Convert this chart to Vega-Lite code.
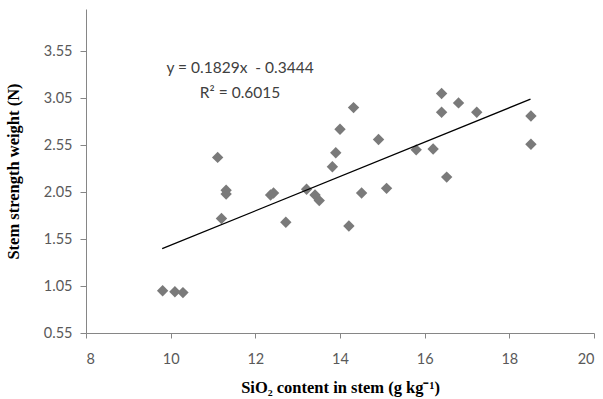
{
  "$schema": "https://vega.github.io/schema/vega-lite/v6.json",
  "autosize": "none",
  "width": 508,
  "height": 324,
  "padding": {"left": 86, "top": 9, "right": 9, "bottom": 66},
  "background": "white",
  "config": {
    "view": {"stroke": null},
    "axis": {
      "grid": false,
      "domainColor": "#868686",
      "tickColor": "#868686",
      "labelColor": "#595959",
      "labelFont": "Lato",
      "labelFontSize": 14.5,
      "titleFont": "Liberation Serif",
      "titleFontWeight": "bold",
      "titleFontSize": 16.5,
      "titleColor": "#000000"
    }
  },
  "datasets": {
    "points": [
      {"silica": 9.81, "strength": 1.00},
      {"silica": 10.1, "strength": 0.99},
      {"silica": 10.29, "strength": 0.98},
      {"silica": 11.11, "strength": 2.42},
      {"silica": 11.31, "strength": 2.07},
      {"silica": 11.31, "strength": 2.03},
      {"silica": 11.2, "strength": 1.77},
      {"silica": 12.36, "strength": 2.02},
      {"silica": 12.43, "strength": 2.04},
      {"silica": 12.72, "strength": 1.73},
      {"silica": 13.21, "strength": 2.08},
      {"silica": 13.41, "strength": 2.02},
      {"silica": 13.51, "strength": 1.96},
      {"silica": 13.82, "strength": 2.32},
      {"silica": 13.9, "strength": 2.47},
      {"silica": 14.0, "strength": 2.72},
      {"silica": 14.32, "strength": 2.95},
      {"silica": 14.21, "strength": 1.69},
      {"silica": 14.51, "strength": 2.04},
      {"silica": 14.91, "strength": 2.61},
      {"silica": 15.1, "strength": 2.09},
      {"silica": 15.8, "strength": 2.50},
      {"silica": 16.2, "strength": 2.51},
      {"silica": 16.52, "strength": 2.21},
      {"silica": 16.4, "strength": 3.10},
      {"silica": 16.4, "strength": 2.90},
      {"silica": 16.8, "strength": 3.00},
      {"silica": 17.23, "strength": 2.90},
      {"silica": 18.51, "strength": 2.86},
      {"silica": 18.51, "strength": 2.56}
    ],
    "trend": [
      {"silica": 9.8, "strength": 1.448},
      {"silica": 18.5, "strength": 3.040}
    ],
    "labels": [
      {"silica": 11.64, "strength": 3.375, "text": "y = 0.1829x\u00a0 - 0.3444"},
      {"silica": 11.64, "strength": 3.11, "text": "R² = 0.6015"}
    ]
  },
  "layer": [
    {
      "data": {"name": "points"},
      "mark": {"type": "point", "shape": "diamond", "filled": true, "size": 130, "color": "#7a7a7a", "opacity": 1},
      "encoding": {
        "x": {
          "field": "silica", "type": "quantitative",
          "scale": {"domain": [8, 20], "nice": false, "zero": false},
          "axis": {"values": [8, 10, 12, 14, 16, 18, 20], "tickSize": 5, "labelPadding": 14, "title": "SiO₂ content in stem (g kg⁻¹)", "titlePadding": 14}
        },
        "y": {
          "field": "strength", "type": "quantitative",
          "scale": {"domain": [0.55, 4.0], "nice": false, "zero": false},
          "axis": {"values": [0.55, 1.05, 1.55, 2.05, 2.55, 3.05, 3.55], "format": ".2f", "tickSize": 6, "labelPadding": 8, "title": "Stem  strength weight (N)", "titlePadding": 22}
        }
      }
    },
    {
      "data": {"name": "trend"},
      "mark": {"type": "line", "color": "#000000", "strokeWidth": 1.3},
      "encoding": {
        "x": {"field": "silica", "type": "quantitative"},
        "y": {"field": "strength", "type": "quantitative"}
      }
    },
    {
      "data": {"name": "labels"},
      "mark": {"type": "text", "font": "Lato", "fontSize": 15.5, "color": "#404040", "align": "center", "baseline": "middle"},
      "encoding": {
        "x": {"field": "silica", "type": "quantitative"},
        "y": {"field": "strength", "type": "quantitative"},
        "text": {"field": "text"}
      }
    }
  ]
}
